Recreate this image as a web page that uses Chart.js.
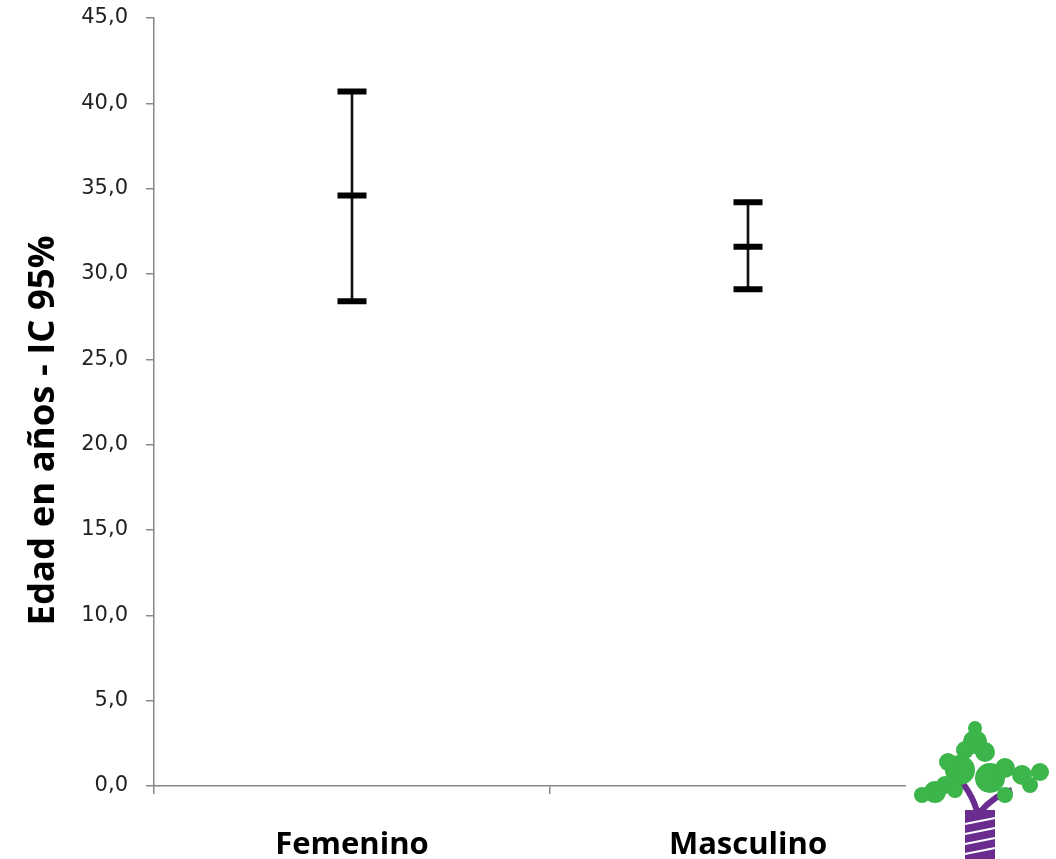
<!DOCTYPE html>
<html><head><meta charset="utf-8">
<script src="https://cdn.jsdelivr.net/npm/chart.js@4"></script>
<style>html,body{margin:0;padding:0;background:#fff}#wrap{width:1056px;height:859px;position:relative}</style>
</head><body><div id="wrap"><canvas id="c" width="1056" height="859"></canvas></div>
<script>
const categories = ["Femenino", "Masculino"];
const lowerCI = [28.4, 29.1];
const meanAge = [34.6, 31.6];
const upperCI = [40.7, 34.2];
const yTicks = [0, 5, 10, 15, 20, 25, 30, 35, 40, 45];

const treePlugin = {
  id: 'tree',
  afterDraw(chart) {
    const ctx = chart.ctx;
    ctx.save();
    ctx.fillStyle = '#fff';
    ctx.fillRect(906, 722, 150, 137);
    // trunk
    ctx.fillStyle = '#6a2d8f';
    ctx.fillRect(965, 810, 30, 49);
    ctx.strokeStyle = '#6a2d8f';
    ctx.lineWidth = 6;
    ctx.beginPath(); ctx.moveTo(978, 815); ctx.quadraticCurveTo(972, 790, 952, 772); ctx.stroke();
    ctx.beginPath(); ctx.moveTo(980, 812); ctx.quadraticCurveTo(995, 795, 1012, 790); ctx.stroke();
    ctx.strokeStyle = '#fff'; ctx.lineWidth = 2;
    for (let i = 0; i < 4; i++) { ctx.beginPath(); ctx.moveTo(965, 824 + i*10); ctx.lineTo(995, 818 + i*10); ctx.stroke(); }
    // leaves
    ctx.fillStyle = '#3cb54a';
    const blobs = [[975,742,12],[985,752,10],[965,750,9],[960,770,15],[948,762,9],[990,778,15],[1005,768,10],[935,792,11],[922,795,8],[945,785,9],[1022,775,10],[1040,772,9],[1030,785,8],[975,728,7],[1005,795,8],[955,790,8]];
    blobs.forEach(b => { ctx.beginPath(); ctx.arc(b[0], b[1], b[2], 0, Math.PI*2); ctx.fill(); });
    ctx.restore();
  }
};

const capStyle = { type: 'line', showLine: false, pointStyle: 'line', pointRadius: 14.5, pointHoverRadius: 14.5, pointBorderWidth: 6, borderColor: '#000', backgroundColor: '#000', order: 0 };

new Chart(document.getElementById('c'), {
  type: 'bar',
  data: {
    labels: categories,
    datasets: [
      { type: 'bar', data: categories.map((c, i) => [lowerCI[i], upperCI[i]]), backgroundColor: '#111', borderWidth: 0, barThickness: 2, order: 1 },
      Object.assign({ data: upperCI }, capStyle),
      Object.assign({ data: meanAge }, capStyle),
      Object.assign({ data: lowerCI }, capStyle)
    ]
  },
  options: {
    responsive: false,
    animation: false,
    devicePixelRatio: 1,
    layout: { autoPadding: false, padding: { left: 22, top: 18, right: 110, bottom: 0 } },
    plugins: { legend: { display: false }, tooltip: { enabled: false } },
    scales: {
      x: {
        offset: true,
        afterFit(axis) { axis.height = 73; },
        grid: { offset: true, drawOnChartArea: false, drawTicks: true, tickLength: 8, color: '#888', lineWidth: 1.5 },
        border: { color: '#888', width: 1.5 },
        ticks: { color: '#000', font: { family: 'Open Sans', size: 31, weight: 'bold' }, padding: 33 }
      },
      y: {
        min: 0, max: 45,
        afterFit(axis) { axis.width = 132; axis.paddingTop = 0; axis.paddingBottom = 0; },
        afterBuildTicks(axis) { axis.ticks = yTicks.map(v => ({ value: v })); },
        grid: { drawOnChartArea: false, drawTicks: true, tickLength: 8, color: '#888', lineWidth: 1.5 },
        border: { color: '#888', width: 1.5 },
        ticks: { color: '#222', font: { family: 'DejaVu Sans', size: 21 }, padding: 18, callback: v => v.toFixed(1).replace('.', ',') },
        title: { display: true, text: 'Edad en años - IC 95%\u00a0\u00a0\u00a0\u00a0\u00a0\u00a0', color: '#000', font: { family: 'Open Sans', size: 36.5, weight: 'bold' }, padding: { top: 0, bottom: 0 } }
      }
    }
  },
  plugins: [treePlugin]
});
</script></body></html>
